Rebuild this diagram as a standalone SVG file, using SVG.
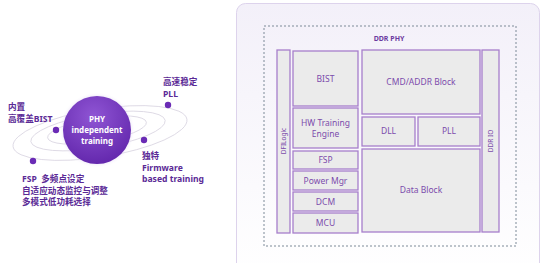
<svg xmlns="http://www.w3.org/2000/svg" width="545" height="263" viewBox="0 0 545 263">
<defs>
<radialGradient id="ball" cx="0.45" cy="0.3" r="0.8">
<stop offset="0" stop-color="#8f55d4"/>
<stop offset="1" stop-color="#5e22a8"/>
</radialGradient>
<radialGradient id="halo" cx="0.5" cy="0.5" r="0.5">
<stop offset="0.8" stop-color="#c9b2ea" stop-opacity="0.7"/>
<stop offset="1" stop-color="#ffffff" stop-opacity="0"/>
</radialGradient>
<linearGradient id="panel" x1="0" y1="0" x2="0" y2="1">
<stop offset="0" stop-color="#f3f0f9"/>
<stop offset="1" stop-color="#ffffff"/>
</linearGradient>
<style>
.lbl{font-family:"Noto Sans","Noto Sans CJK SC",sans-serif;font-weight:bold;font-size:8.6px;fill:#5b2a96}
.ctr{font-family:"Noto Sans",sans-serif;font-weight:bold;font-size:8px;fill:#ffffff;text-anchor:middle}
.box{fill:#ebebeb;stroke:#a77ecb;stroke-width:1.3}
.bt{font-family:"Noto Sans","Liberation Sans",sans-serif;font-size:8.5px;fill:#7c4bab;text-anchor:middle}
.vt{font-family:"Noto Sans","Liberation Sans",sans-serif;font-size:6.5px;fill:#7c4bab;text-anchor:middle}
.orb{fill:none;stroke:#d8d4e0;stroke-width:0.8}
.dot{fill:#6a2bb5}
</style>
</defs>
<g id="feature-diagram">
<g id="orbits">
<ellipse class="orb" cx="100" cy="133" rx="88" ry="24" transform="rotate(-9 100 133)"/>
<ellipse class="orb" cx="98" cy="131" rx="68" ry="17" transform="rotate(-9 98 131)"/>
<ellipse class="orb" cx="97" cy="130" rx="50" ry="12" transform="rotate(-9 97 130)"/>
</g>
<circle cx="97" cy="130" r="38" fill="url(#halo)"/>
<g id="core">
<circle cx="97" cy="130" r="34" fill="url(#ball)"/>
<text class="ctr" x="97" y="122">PHY</text>
<text class="ctr" x="97" y="133">independent</text>
<text class="ctr" x="97" y="144">training</text>
</g>
<circle class="dot" cx="56" cy="130" r="3.2"/>
<circle class="dot" cx="168" cy="105" r="3.2"/>
<circle class="dot" cx="144" cy="140" r="3.2"/>
<circle class="dot" cx="33" cy="161" r="3.2"/>
<g id="label-bist">
<text class="lbl" x="8" y="110">内置</text>
<text class="lbl" x="8" y="121.5">高覆盖BIST</text>
</g>
<g id="label-pll">
<text class="lbl" x="163" y="85">高速稳定</text>
<text class="lbl" x="163" y="96.5">PLL</text>
</g>
<g id="label-fw">
<text class="lbl" x="142" y="159">独特</text>
<text class="lbl" x="142" y="170.5">Firmware</text>
<text class="lbl" x="142" y="182">based training</text>
</g>
<g id="label-fsp">
<text class="lbl" x="22" y="182" xml:space="preserve">FSP  多频点设定</text>
<text class="lbl" x="22" y="193.5">自适应动态监控与调整</text>
<text class="lbl" x="22" y="205">多模式低功耗选择</text>
</g>
</g>
<g id="ddr-phy-panel">
<rect x="236.5" y="3.5" width="303" height="275" rx="9" fill="url(#panel)" stroke="#ddd3ec" stroke-width="1"/>
<rect x="264" y="26" width="252" height="220" fill="none" stroke="#7d8a98" stroke-width="1" stroke-dasharray="2,2"/>
<text x="389" y="41" font-family="Noto Sans,Liberation Sans,sans-serif" font-weight="bold" font-size="7px" fill="#6b3aa0" text-anchor="middle">DDR PHY</text>
<g id="dfilogic"><rect class="box" x="277" y="50" width="13" height="183"/><text class="vt" transform="translate(285.5 141) rotate(-90)">DFILogic</text></g>
<g id="bist"><rect class="box" x="293" y="51" width="65" height="55"/><text class="bt" x="325.5" y="82">BIST</text></g>
<g id="hwte"><rect class="box" x="293" y="108" width="65" height="40"/><text class="bt" x="325.5" y="126">HW Training</text><text class="bt" x="325.5" y="137">Engine</text></g>
<g id="fsp"><rect class="box" x="293" y="151" width="65" height="18"/><text class="bt" x="325.5" y="163">FSP</text></g>
<g id="pwr"><rect class="box" x="293" y="171" width="65" height="19"/><text class="bt" x="325.5" y="184">Power Mgr</text></g>
<g id="dcm"><rect class="box" x="293" y="192" width="65" height="19"/><text class="bt" x="325.5" y="205">DCM</text></g>
<g id="mcu"><rect class="box" x="293" y="213" width="65" height="20"/><text class="bt" x="325.5" y="226">MCU</text></g>
<g id="cmd"><rect class="box" x="362" y="50" width="118" height="64"/><text class="bt" x="421" y="85">CMD/ADDR Block</text></g>
<g id="dll"><rect class="box" x="362" y="117" width="53" height="29"/><text class="bt" x="388.5" y="134">DLL</text></g>
<g id="pll"><rect class="box" x="418" y="117" width="62" height="29"/><text class="bt" x="449" y="134">PLL</text></g>
<g id="data"><rect class="box" x="362" y="149" width="118" height="83"/><text class="bt" x="421" y="193">Data Block</text></g>
<g id="ddrio"><rect class="box" x="482" y="50" width="17" height="182"/><text class="vt" transform="translate(492.5 141) rotate(-90)">DDR IO</text></g>
</g>
<g id="connectors"/>
</svg>
